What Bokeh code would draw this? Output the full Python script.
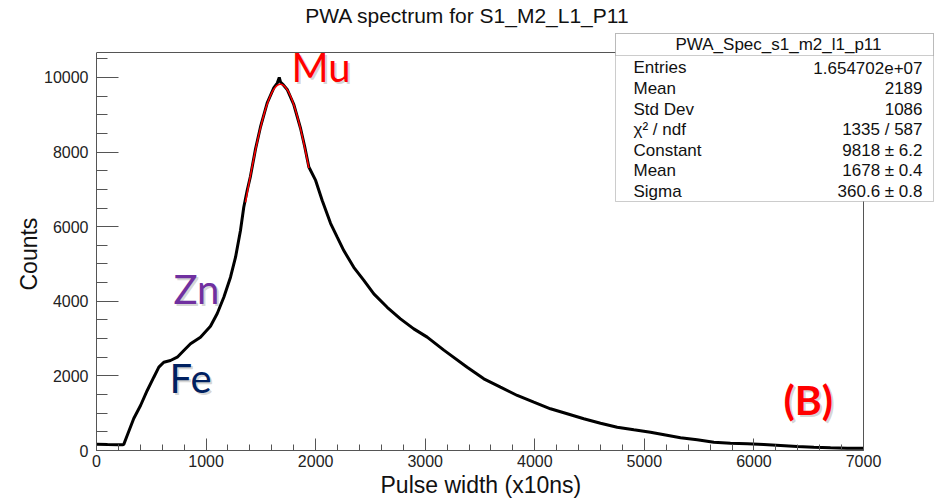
import numpy as np
from bokeh.plotting import figure
from bokeh.models import Range1d, FixedTicker, Label, BoxAnnotation, Title
from bokeh.embed import file_html
from bokeh.resources import INLINE

# ---------------- data ----------------
pulse_width = [0, 100, 200, 237, 249, 280, 340, 402, 463, 523, 569, 614, 675, 737, 797, 858,
               949, 1040, 1102, 1162, 1223, 1269, 1314, 1344, 1375, 1405, 1451, 1497, 1558,
               1618, 1650, 1668, 1679, 1700, 1740, 1801, 1862, 1900, 1938, 2000, 2060, 2136,
               2197, 2257, 2348, 2440, 2531, 2653, 2774, 2896, 3018, 3170, 3383, 3535, 3687,
               3840, 3991, 4143, 4296, 4447, 4600, 4752, 4904, 5056, 5330, 5482, 5634, 5786,
               5939, 6090, 6243, 6395, 6547, 6699, 6851, 7000]
counts = [165, 158, 152, 152, 165, 402, 858, 1206, 1609, 1965, 2234, 2367, 2413, 2501, 2681, 2861,
          3038, 3330, 3673, 4110, 4646, 5182, 5898, 6523, 6971, 7350, 8080, 8680, 9320,
          9720, 9850, 10000, 9880, 9820, 9680, 9270, 8640, 8150, 7600, 7240, 6700, 6090,
          5720, 5360, 4910, 4560, 4200, 3840, 3530, 3260, 3040, 2690, 2233, 1922, 1697,
          1475, 1295, 1118, 984, 850, 732, 625, 555, 490, 340, 287, 223, 196,
          180, 161, 134, 107, 88, 72, 62, 58]

# Gaussian fit parameters shown in the stats box
fit_constant = 9818.0
fit_mean = 1678.0
fit_sigma = 360.6
fit_xmin, fit_xmax = 1360, 1938

stats_title = "PWA_Spec_s1_m2_l1_p11"
stats_names = ["Entries", "Mean", "Std Dev", "\u03c7\u00b2 / ndf", "Constant", "Mean", "Sigma"]
stats_values = ["1.654702e+07", "2189", "1086", "1335 / 587", "9818 \u00b1 6.2",
                "1678 \u00b1 0.4", "360.6 \u00b1 0.8"]

x_major = list(range(0, 7001, 1000))
x_minor = list(range(0, 7001, 200))
y_major = list(range(0, 10001, 2000))
y_minor = list(range(0, 10501, 500))

X_MAX = 7000      # right edge of the histogram frame
Y_MAX = 10670     # top edge of the histogram frame

# ---------------- layout ----------------
W, H = 935, 502
AX_L, AX_R = 96, 863   # pixel columns of x = 0 and x = X_MAX
AX_B, AX_T = 450, 52   # pixel rows of y = 0 and y = Y_MAX


def px2x(px):
    return (px - AX_L) / (AX_R - AX_L) * X_MAX


def px2y(py):
    return (AX_B - py) / (AX_B - AX_T) * Y_MAX


FRAME_R = 934  # the plotting area runs to the right and top edges so that
FRAME_T = 0    # the title and the stats box can live inside it

p = figure(width=W, height=H, title=None,
           x_range=Range1d(0, px2x(FRAME_R)), y_range=Range1d(0, px2y(FRAME_T)),
           output_backend="svg", toolbar_location=None,
           min_border_left=AX_L, min_border_right=W - FRAME_R,
           min_border_top=FRAME_T, min_border_bottom=H - AX_B)

p.background_fill_color = "white"
p.border_fill_color = "white"
p.outline_line_color = None
p.xgrid.visible = False
p.ygrid.visible = False

AXC = "#555555"
FONT = "Liberation Sans"
TXT = "#111111"

p.xaxis.ticker = FixedTicker(ticks=x_major, minor_ticks=x_minor)
p.yaxis.ticker = FixedTicker(ticks=y_major, minor_ticks=y_minor)
p.xaxis.bounds = (0, X_MAX)
p.yaxis.bounds = (0, Y_MAX)
for ax in (p.xaxis, p.yaxis):
    ax.axis_line_color = AXC
    ax.major_tick_line_color = AXC
    ax.minor_tick_line_color = AXC
    ax.major_tick_out = 0
    ax.minor_tick_out = 0
    ax.major_label_text_font = FONT
    ax.major_label_text_font_size = "16px"
    ax.major_label_text_color = "#222222"
p.xaxis.major_tick_in = 12
p.xaxis.minor_tick_in = 6
p.yaxis.major_tick_in = 22
p.yaxis.minor_tick_in = 11
p.xaxis.major_label_standoff = 4
p.yaxis.major_label_standoff = 8

# axis titles, placed in the side panels next to the axes
p.add_layout(Title(text="Pulse width (x10ns)", align="left", offset=284, standoff=0,
                   text_font=FONT, text_font_size="23px", text_font_style="normal",
                   text_color=TXT), "below")
p.add_layout(Title(text="Counts", align="left", offset=160, standoff=0,
                   text_font=FONT, text_font_size="23px", text_font_style="normal",
                   text_color=TXT), "left")

# top and right borders of the histogram frame
p.line([0, X_MAX], [Y_MAX, Y_MAX], line_color=AXC, line_width=1)
p.line([X_MAX, X_MAX], [0, Y_MAX], line_color=AXC, line_width=1)

# histogram
p.line(pulse_width, counts, line_color="black", line_width=3)

# gaussian fit
fx = np.linspace(fit_xmin, fit_xmax, 120)
fy = fit_constant * np.exp(-0.5 * ((fx - fit_mean) / fit_sigma) ** 2)
p.line(fx, fy, line_color="red", line_width=1.5)


# ---------------- texts ----------------
def add_label(px, py, text, size, color=TXT, align="left", font=FONT, style="normal",
              alpha=1.0, lift=0.33):
    s = float(size.replace("px", ""))
    p.add_layout(Label(x=px2x(px), y=px2y(py - lift * s), text=text, text_font=font,
                       text_font_size=size, text_color=color, text_align=align,
                       text_baseline="alphabetic", text_font_style=style,
                       text_alpha=alpha))


add_label(467, 22, "PWA spectrum for S1_M2_L1_P11", "21px", TXT, "center")

# stats box
BL, BR, BT, BB, BH = 615, 933, 33, 201, 55
p.add_layout(BoxAnnotation(left=px2x(BL), right=px2x(BR), top=px2y(BT), bottom=px2y(BB),
                           fill_color="white", fill_alpha=1.0, line_color=AXC,
                           line_width=1, level="annotation"))
p.add_layout(BoxAnnotation(left=px2x(BL), right=px2x(BR), top=px2y(BT), bottom=px2y(BH),
                           fill_color="white", fill_alpha=1.0, line_color=AXC,
                           line_width=1, level="annotation"))
add_label(778, 50, stats_title, "17px", TXT, "center")
for i, (nm, vl) in enumerate(zip(stats_names, stats_values)):
    base = 73 + i * 20.6
    add_label(633, base, nm, "17px", TXT, "left")
    add_label(922, base, vl, "17px", TXT, "right")

# element annotations (with a soft shadow)
LATO = "Lato"
for (px, py, txt, col, size, style) in [
    (291, 83, "Mu", "#FF0000", "40px", "normal"),
    (173, 305, "Zn", "#7030A0", "40px", "normal"),
    (169, 394, "Fe", "#002060", "40px", "normal"),
    (783, 416, "(B)", "#FF0000", "41px", "bold"),
]:
    add_label(px + 2, py + 2, txt, size, "#888888", "left", LATO, style, 0.35, 0.42)
    add_label(px, py, txt, size, col, "left", LATO, style, 1.0, 0.42)

open("out.html", "w").write(file_html(p, INLINE))
